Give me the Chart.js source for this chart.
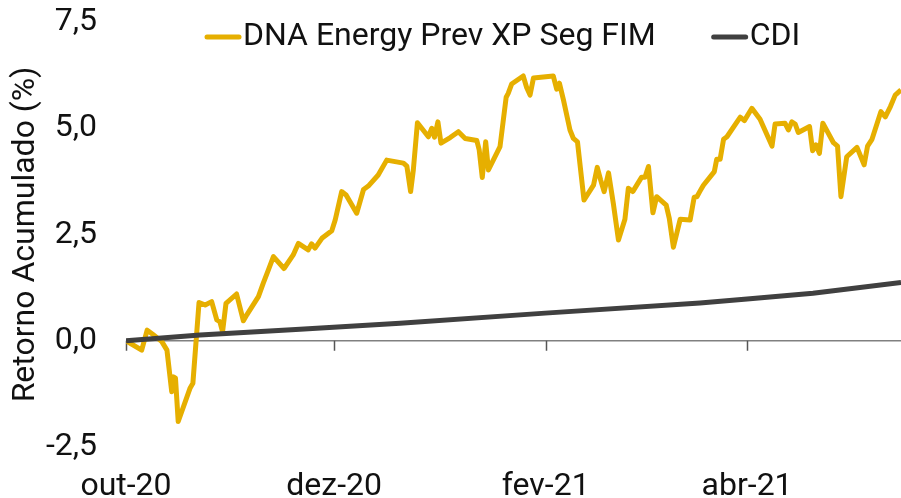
<!DOCTYPE html>
<html>
<head>
<meta charset="utf-8">
<script src="https://cdn.jsdelivr.net/npm/chart.js@4"></script>
<style>
  html, body { margin: 0; padding: 0; background: #fff; }
  #wrap { width: 901px; height: 498px; }
</style>
</head>
<body>
<div id="wrap"><canvas id="retornoChart"></canvas></div>
<script>
// days counted from 1 Oct 2020
const tickDays = [0, 61, 123, 182];
const tickLabels = ['out-20', 'dez-20', 'fev-21', 'abr-21'];

const fundDays = [0, 4.6, 6.2, 8.0, 10.5, 12.0, 13.4, 13.9, 14.5, 15.3,
    18.8, 19.6, 21.4, 23.2, 25.1, 26.6, 27.5, 28.3, 29.3, 32.4,
    34.4, 35.4, 38.8, 40.2, 41.7, 43.2, 46.3, 49.0, 50.5, 53.4,
    54.4, 55.4, 57.4, 60.3, 61.3, 63.2, 64.5, 67.6, 69.6, 71.0,
    73.9, 76.4, 81.3, 82.3, 83.4, 84.2, 85.4, 88.6, 89.6, 90.4,
    91.4, 92.3, 95.0, 97.4, 99.4, 102.8, 103.5, 104.4, 105.4, 106.2,
    109.6, 111.4, 112.0, 113.0, 116.4, 117.4, 118.4, 119.4, 125.2, 126.2,
    127.0, 128.2, 130.1, 131.1, 132.3, 134.2, 137.0, 138.1, 139.1, 140.1,
    141.4, 142.8, 144.3, 146.2, 147.2, 148.5, 151.1, 152.1, 153.1, 154.4,
    155.5, 158.3, 159.2, 160.4, 162.4, 165.3, 166.5, 167.3, 168.2, 169.2,
    172.4, 173.1, 174.1, 175.1, 176.1, 180.0, 181.2, 183.4, 185.8, 189.3,
    190.2, 193.1, 194.1, 195.1, 196.1, 197.0, 200.3, 201.2, 202.2, 203.2,
    204.2, 207.3, 208.5, 209.5, 211.2, 214.2, 216.3, 217.3, 218.6, 221.2,
    222.5, 224.0, 225.4, 227.1];
const fundValues = [0, -0.22, 0.25, 0.14, -0.02, -0.22, -1.2, -0.85, -0.88, -1.9,
    -1.11, -1.0, 0.9, 0.84, 0.92, 0.49, 0.45, 0.21, 0.88, 1.1,
    0.47, 0.61, 1.04, 1.35, 1.66, 1.98, 1.70, 2.02, 2.29, 2.14,
    2.28, 2.18, 2.41, 2.59, 2.84, 3.51, 3.43, 3.0, 3.56, 3.64,
    3.9, 4.25, 4.18, 4.11, 3.51, 4.02, 5.13, 4.8, 5.0, 4.79,
    5.15, 4.65, 4.78, 4.92, 4.76, 4.71, 4.49, 3.84, 4.68, 4.02,
    4.57, 5.73, 5.82, 6.04, 6.23, 5.96, 5.78, 6.18, 6.23, 5.92,
    6.06, 5.66, 4.96, 4.76, 4.68, 3.31, 3.66, 4.08, 3.78, 3.51,
    3.95, 3.23, 2.37, 2.86, 3.59, 3.51, 3.85, 3.85, 4.10, 3.01,
    3.39, 3.19, 2.88, 2.2, 2.86, 2.84, 3.38, 3.39, 3.52, 3.66,
    3.98, 4.27, 4.27, 4.74, 4.80, 5.26, 5.18, 5.47, 5.21, 4.58,
    5.10, 5.12, 4.96, 5.15, 5.10, 4.9, 5.04, 4.47, 4.61, 4.41,
    5.12, 4.66, 4.58, 3.39, 4.33, 4.55, 4.14, 4.58, 4.74, 5.39,
    5.27, 5.51, 5.78, 5.90];

const cdiDays = [0, 21.7, 51.0, 80.3, 122.8, 168.2, 182.0, 201.3, 227.1];
const cdiValues = [0, 0.135, 0.27, 0.41, 0.65, 0.89, 0.98, 1.12, 1.37];

const yTicks = [-2.5, 0, 2.5, 5, 7.5];

const FONT = 'Roboto';
const TEXT_COLOR = '#111111';

function toPoints(days, values) {
    return days.map((d, i) => ({ x: d, y: values[i] }));
}

// zero line tick marks hanging below y = 0
const zeroTicks = {
    id: 'zeroTicks',
    beforeDatasetsDraw(chart) {
        const { ctx, scales: { x, y } } = chart;
        const y0 = y.getPixelForValue(0);
        ctx.save();
        ctx.strokeStyle = '#555555';
        ctx.lineWidth = 1.5;
        x.ticks.forEach(t => {
            const px = Math.round(x.getPixelForValue(t.value)) + 0.5;
            ctx.beginPath();
            ctx.moveTo(px, y0);
            ctx.lineTo(px, y0 + 10);
            ctx.stroke();
        });
        ctx.restore();
    }
};

// legend drawn by hand so the swatch sits right next to the text
const lineLegend = {
    id: 'lineLegend',
    afterDraw(chart) {
        const ctx = chart.ctx;
        let x = 205;
        const y = 37;
        ctx.save();
        ctx.font = '32px ' + FONT;
        ctx.textBaseline = 'middle';
        ctx.textAlign = 'left';
        chart.data.datasets.forEach(ds => {
            ctx.strokeStyle = ds.borderColor;
            ctx.lineWidth = 5;
            ctx.lineCap = 'round';
            ctx.beginPath();
            ctx.moveTo(x + 2, y);
            ctx.lineTo(x + 34, y);
            ctx.stroke();
            ctx.fillStyle = TEXT_COLOR;
            ctx.fillText(ds.label, x + 38, y);
            x += 38 + ctx.measureText(ds.label).width + 56;
        });
        ctx.restore();
    }
};

const ctx = document.getElementById('retornoChart').getContext('2d');
new Chart(ctx, {
    type: 'line',
    data: {
        datasets: [
            {
                label: 'DNA Energy Prev XP Seg FIM',
                data: toPoints(fundDays, fundValues),
                borderColor: '#E6AF00',
                borderWidth: 5,
                borderJoinStyle: 'round',
                pointRadius: 0,
                tension: 0,
                order: 1
            },
            {
                label: 'CDI',
                data: toPoints(cdiDays, cdiValues),
                borderColor: '#404040',
                borderWidth: 5,
                borderJoinStyle: 'round',
                pointRadius: 0,
                tension: 0,
                order: 0
            }
        ]
    },
    options: {
        responsive: true,
        maintainAspectRatio: false,
        animation: false,
        layout: {
            padding: { top: 0, right: 0, bottom: 0, left: 0 }
        },
        plugins: {
            legend: { display: false },
            tooltip: { enabled: false }
        },
        scales: {
            x: {
                type: 'linear',
                min: 0,
                max: 227.1,
                border: { display: false },
                grid: { display: false, drawTicks: false },
                afterBuildTicks: scale => {
                    scale.ticks = tickDays.map(v => ({ value: v }));
                },
                afterFit: scale => { scale.height = 51; },
                ticks: {
                    autoSkip: false,
                    maxRotation: 0,
                    padding: 21,
                    color: TEXT_COLOR,
                    font: { family: FONT, size: 32 },
                    callback: function(value) {
                        const i = tickDays.indexOf(value);
                        return i >= 0 ? tickLabels[i] : '';
                    }
                }
            },
            y: {
                min: -2.5,
                max: 7.5,
                border: { display: false },
                grid: {
                    drawTicks: false,
                    lineWidth: 1.5,
                    color: c => (c.tick && c.tick.value === 0) ? '#808080' : 'rgba(0,0,0,0)'
                },
                afterBuildTicks: scale => {
                    scale.ticks = yTicks.map(v => ({ value: v }));
                },
                afterFit: scale => {
                    scale.width = 126;
                    scale.paddingTop = 22;
                    scale.paddingBottom = 0;
                },
                ticks: {
                    padding: 29,
                    color: TEXT_COLOR,
                    font: { family: FONT, size: 32 },
                    callback: value => value.toFixed(1).replace('.', ',')
                },
                title: {
                    display: true,
                    text: 'Retorno Acumulado (%)',
                    color: TEXT_COLOR,
                    font: { family: FONT, size: 32 },
                    padding: { top: 7, bottom: 0 }
                }
            }
        }
    },
    plugins: [zeroTicks, lineLegend]
});
</script>
</body>
</html>
